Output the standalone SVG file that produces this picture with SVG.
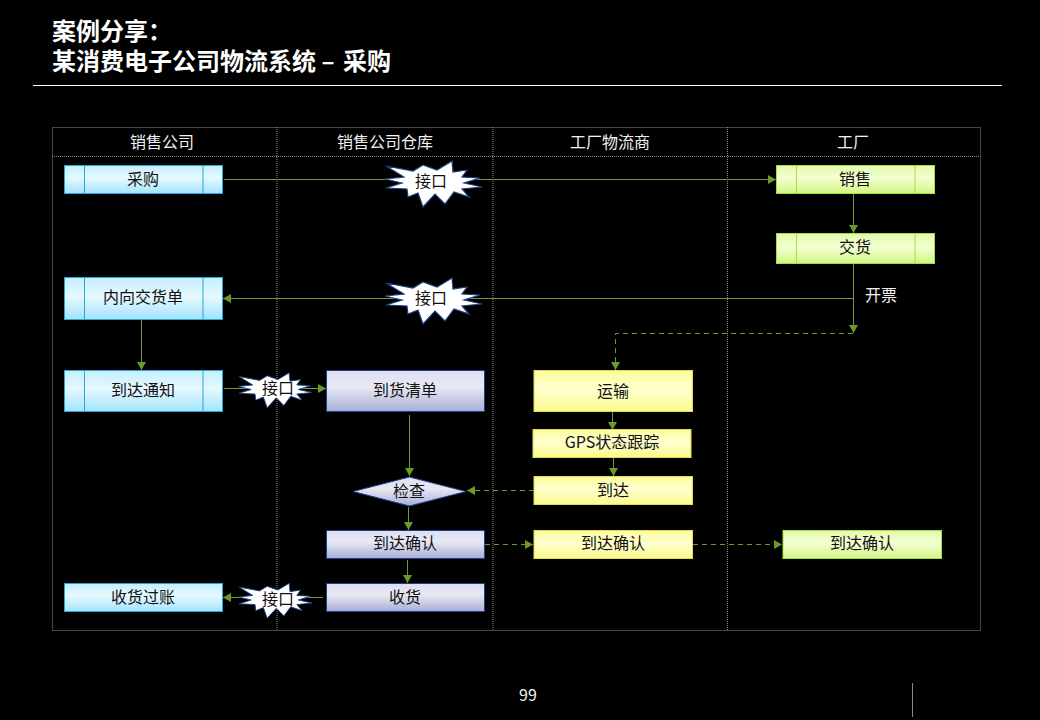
<svg xmlns="http://www.w3.org/2000/svg" width="1040" height="720" viewBox="0 0 1040 720">
<style>
text{font-family:"Noto Sans CJK SC","Noto Sans",sans-serif;font-size:16px;text-anchor:middle;dominant-baseline:central;fill:#111;transform:translateY(-.6px)}
.w{fill:#f2f2f2}
.t{font-size:24px;font-weight:700;fill:#fff;text-anchor:start}
.grid{fill:none;stroke:#8a8a8a;stroke-width:1;stroke-dasharray:1 1}
.c{fill:none;stroke:#6f9a3c;stroke-width:1}
.d{stroke-dasharray:5 4}
.a{marker-end:url(#arr)}
.blue{fill:url(#gb);stroke:#2aa6d8;stroke-width:1}
.green{fill:url(#gg);stroke:#a6dc3c;stroke-width:1}
.yellow{fill:url(#gy);stroke:#dede50;stroke-width:1}
.peri{fill:url(#gp);stroke:#1f3f90;stroke-width:1}
.ib{stroke:#2aa6d8;stroke-width:1}
.ig{stroke:#a6dc3c;stroke-width:1}
.burst{fill:#fff;stroke:#1c3f80;stroke-width:1.2}
</style>
<defs>
<linearGradient id="gb" x1="0" y1="0" x2="0" y2="1"><stop offset="0" stop-color="#c4effd"/><stop offset=".45" stop-color="#e6f9ff"/><stop offset="1" stop-color="#a2e4fc"/></linearGradient>
<linearGradient id="gg" x1="0" y1="0" x2="0" y2="1"><stop offset="0" stop-color="#e2faaa"/><stop offset=".45" stop-color="#f4ffd4"/><stop offset="1" stop-color="#d0f582"/></linearGradient>
<linearGradient id="gy" x1="0" y1="0" x2="0" y2="1"><stop offset="0" stop-color="#fcfc9a"/><stop offset=".45" stop-color="#ffffd0"/><stop offset="1" stop-color="#fafa8c"/></linearGradient>
<linearGradient id="gp" x1="0" y1="0" x2="0" y2="1"><stop offset="0" stop-color="#dcdef0"/><stop offset=".4" stop-color="#e8e9f4"/><stop offset="1" stop-color="#a8add6"/></linearGradient>
<marker id="arr" markerUnits="userSpaceOnUse" markerWidth="9" markerHeight="9" refX="8" refY="4.5" orient="auto"><path d="M0 0L8 4.500L0 9Z" fill="#6b9a26"/></marker>
<polygon id="bst" points="-46,-17 -19,-12 -9,-18 5,-13 20,-22 21,-11 35,-13 30,-6 48,-5 32,0 50,4 30,6 37,14 22,9 13,21 3,11 -9,24 -14,10 -24,14 -25,6 -46,5 -30,0 -47,-4 -28,-6"/>
</defs>
<rect width="1040" height="720" fill="#000"/>

<g id="title">
<text class="t" x="52" y="30.500">案例分享：</text>
<text class="t" x="52" y="60">某消费电子公司物流系统 – <tspan dx="3">采购</tspan></text>
<line x1="33" y1="85.500" x2="1002" y2="85.500" stroke="#fff"/>
</g>

<g id="swimlanes">
<rect class="grid" x="52.500" y="127.500" width="928" height="503"/>
<line class="grid" x1="52" y1="156.500" x2="980" y2="156.500"/>
<line class="grid" x1="277" y1="127" x2="277" y2="630"/>
<line class="grid" x1="493" y1="127" x2="493" y2="630"/>
<line class="grid" x1="727.500" y1="127" x2="727.500" y2="630"/>
<text class="w" x="162" y="142">销售公司</text>
<text class="w" x="385" y="142">销售公司仓库</text>
<text class="w" x="610" y="142">工厂物流商</text>
<text class="w" x="853" y="142">工厂</text>
</g>

<g id="connectors">
<line class="c a" x1="224" y1="179.500" x2="776" y2="179.500"/>
<line class="c a" x1="853.500" y1="193" x2="853.500" y2="233"/>
<line class="c a" x1="853.500" y1="263" x2="853.500" y2="333"/>
<line class="c a" x1="853.500" y1="298.500" x2="223" y2="298.500"/>
<path class="c d a" d="M853 333.500H615.500V370"/>
<line class="c a" x1="141.500" y1="319" x2="141.500" y2="370"/>
<line class="c a" x1="224" y1="388.500" x2="326" y2="388.500"/>
<line class="c a" x1="409.500" y1="415" x2="409.500" y2="476"/>
<line class="c a" x1="408.500" y1="507" x2="408.500" y2="530"/>
<line class="c a" x1="407.500" y1="560" x2="407.500" y2="583"/>
<line class="c a" x1="323" y1="597.500" x2="223" y2="597.500"/>
<line class="c a" x1="612.500" y1="411" x2="612.500" y2="430"/>
<line class="c a" x1="613.500" y1="457" x2="613.500" y2="476"/>
<line class="c d a" x1="534" y1="490.500" x2="467" y2="490.500"/>
<line class="c d a" x1="485" y1="544.500" x2="533" y2="544.500"/>
<line class="c d a" x1="693" y1="544.500" x2="782" y2="544.500"/>
</g>

<g id="n1"><rect class="blue" x="64.500" y="165.500" width="158" height="28"/><path class="ib" d="M84.500 166V193M203 166V193"/><text x="143" y="179">采购</text></g>
<g id="n2"><rect class="blue" x="64.500" y="277.500" width="158" height="42"/><path class="ib" d="M84.500 278V319M203 278V319"/><text x="143" y="297">内向交货单</text></g>
<g id="n3"><rect class="blue" x="64.500" y="370.500" width="158" height="41"/><path class="ib" d="M84.500 371V411M203 371V411"/><text x="143" y="390">到达通知</text></g>
<g id="n4"><rect class="blue" x="64.500" y="583.500" width="158" height="28"/><text x="143" y="597">收货过账</text></g>
<g id="n5"><rect class="green" x="776.500" y="165.500" width="158" height="28"/><path class="ig" d="M796.500 166V193M915 166V193"/><text x="855" y="179">销售</text></g>
<g id="n6"><rect class="green" x="776.500" y="233.500" width="158" height="30"/><path class="ig" d="M796.500 234V263M915 234V263"/><text x="855" y="247">交货</text></g>
<g id="n7"><rect class="peri" x="326.500" y="370.500" width="158" height="41"/><text x="405" y="390">到货清单</text></g>
<g id="n8"><polygon class="peri" points="353,491.500 409.500,477 466,491.500 409.500,506"/><text x="409" y="491">检查</text></g>
<g id="n9"><rect class="peri" x="326.500" y="530.500" width="158" height="28"/><text x="405" y="543">到达确认</text></g>
<g id="n10"><rect class="peri" x="326.500" y="583.500" width="158" height="28"/><text x="405" y="597">收货</text></g>
<g id="n11"><rect class="yellow" x="534" y="370.500" width="158.500" height="41"/><text x="613" y="391">运输</text></g>
<g id="n12"><rect class="yellow" x="533" y="429.500" width="158" height="28"/><text x="612" y="442">GPS状态跟踪</text></g>
<g id="n13"><rect class="yellow" x="534" y="476.500" width="158.500" height="28"/><text x="613" y="490">到达</text></g>
<g id="n14"><rect class="yellow" x="534" y="530.500" width="158.500" height="28"/><text x="613" y="543">到达确认</text></g>
<g id="n15"><rect class="green" x="783" y="530.500" width="158.500" height="28"/><text x="862" y="543">到达确认</text></g>

<g id="b1"><use href="#bst" class="burst" transform="translate(432,183)"/><text x="431" y="181">接口</text></g>
<g id="b2"><use href="#bst" class="burst" transform="translate(432,300)"/><text x="431" y="298">接口</text></g>
<g id="b3"><use href="#bst" class="burst" transform="translate(274,389.500) scale(.76)"/><text x="278" y="388">接口</text></g>
<g id="b4"><use href="#bst" class="burst" transform="translate(274,600) scale(.76)"/><text x="278" y="599">接口</text></g>

<text class="w" x="881" y="295">开票</text>
<text class="w" x="528" y="695">99</text>
<line x1="912.500" y1="683" x2="912.500" y2="717" stroke="#8a8a8a"/>
</svg>
